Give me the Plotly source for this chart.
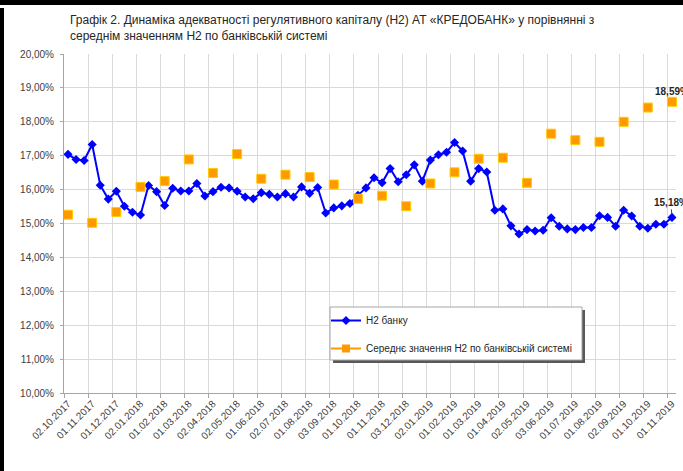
import plotly.graph_objects as go

title_text = ("Графік 2. Динаміка адекватності регулятивного капіталу (Н2) АТ «КРЕДОБАНК» у порівнянні з<br>"
              "середнім значенням Н2 по банківській системі")

month_labels = ["02.10.2017", "01.11.2017", "01.12.2017", "02.01.2018", "01.02.2018", "01.03.2018",
                "02.04.2018", "02.05.2018", "01.06.2018", "02.07.2018", "01.08.2018", "03.09.2018",
                "01.10.2018", "01.11.2018", "03.12.2018", "02.01.2019", "01.02.2019", "01.03.2019",
                "01.04.2019", "02.05.2019", "03.06.2019", "01.07.2019", "01.08.2019", "02.09.2019",
                "01.10.2019", "01.11.2019"]

# Н2 банку (3 observations per month), %
bank_h2 = [17.04, 16.89, 16.86, 17.33, 16.13, 15.72, 15.95, 15.51, 15.33, 15.25,
           16.12, 15.94, 15.53, 16.04, 15.96, 15.96, 16.18, 15.81, 15.94, 16.07,
           16.05, 15.95, 15.78, 15.73, 15.91, 15.86, 15.78, 15.88, 15.78, 16.08,
           15.89, 16.06, 15.31, 15.46, 15.52, 15.59, 15.83, 16.05, 16.35, 16.20,
           16.62, 16.23, 16.44, 16.73, 16.25, 16.87, 17.03, 17.10, 17.39, 17.14,
           16.25, 16.62, 16.52, 15.39, 15.43, 14.93, 14.69, 14.82, 14.78, 14.80,
           15.17, 14.92, 14.84, 14.82, 14.88, 14.88, 15.23, 15.18, 14.92, 15.39,
           15.22, 14.92, 14.86, 14.98, 14.98, 15.18]

# Середнє значення Н2 по банківській системі (monthly), %
system_h2 = [15.26, 15.02, 15.34, 16.08, 16.25, 16.89, 16.49, 17.05, 16.32, 16.44,
             16.37, 16.15, 15.73, 15.82, 15.51, 16.18, 16.51, 16.91, 16.94, 16.20,
             17.65, 17.46, 17.41, 18.00, 18.42, 18.59]

per_month = 3
bank_x = list(range(len(bank_h2)))
sys_x = [i * per_month for i in range(len(system_h2))]

W, H = 683, 471
ML, MR, MT, MB = 64, 7, 54, 78
PW, PH = W - ML - MR, H - MT - MB

def px_x(p):
    return (p - ML) / PW

def px_y(p):
    return 1 - (p - MT) / PH

BLUE = "#0000FF"
ORANGE = "#FF9900"
FONT = "Liberation Sans"

fig = go.Figure()

fig.add_trace(go.Scatter(
    x=bank_x, y=bank_h2, mode="lines+markers", name="Н2 банку",
    line=dict(color=BLUE, width=2),
    marker=dict(symbol="diamond", size=7, color=BLUE),
    legendgroup="a", cliponaxis=False,
))
fig.add_trace(go.Scatter(
    x=sys_x, y=system_h2, mode="markers", name="Середнє значення Н2 по банківській системі",
    marker=dict(symbol="square", size=9, color=ORANGE, line=dict(color="#FFCC00", width=1)),
    showlegend=False, cliponaxis=False,
))
# legend entry (Excel shows line + marker for this series)
fig.add_trace(go.Scatter(
    x=[None], y=[None], mode="lines+markers", name="Середнє значення Н2 по банківській системі",
    line=dict(color=ORANGE, width=2),
    marker=dict(symbol="square", size=8, color=ORANGE),
    legendgroup="b",
))

def fmt(v):
    return f"{v:.2f}".replace(".", ",") + "%"

fig.add_annotation(x=sys_x[-1], y=system_h2[-1], text="<b>" + fmt(system_h2[-1]) + "</b>",
                   showarrow=False, yanchor="bottom", yshift=3,
                   font=dict(family=FONT, size=10, color="#262626"))
fig.add_annotation(x=bank_x[-1], y=bank_h2[-1], text="<b>" + fmt(bank_h2[-1]) + "</b>",
                   showarrow=True, arrowhead=0, arrowwidth=1, arrowcolor="#404040",
                   ax=-1, ay=-15, standoff=3,
                   font=dict(family=FONT, size=10, color="#262626"))

# frame strips of the original screenshot
fig.add_shape(type="rect", xref="paper", yref="paper",
              x0=px_x(-5), x1=px_x(W + 5), y0=px_y(5), y1=px_y(-5),
              fillcolor="black", line_width=0, layer="above")
fig.add_shape(type="rect", xref="paper", yref="paper",
              x0=px_x(-5), x1=px_x(4), y0=px_y(H + 5), y1=px_y(8),
              fillcolor="black", line_width=0, layer="above")

# legend box with shadow (Excel style)
LB = dict(x0=330, x1=582, y0=307, y1=360)
fig.add_shape(type="rect", xref="paper", yref="paper",
              x0=px_x(LB["x0"] + 3), x1=px_x(LB["x1"] + 3), y0=px_y(LB["y1"] + 3), y1=px_y(LB["y0"] + 3),
              fillcolor="#595959", line_width=0, layer="above")
fig.add_shape(type="rect", xref="paper", yref="paper",
              x0=px_x(LB["x0"]), x1=px_x(LB["x1"]), y0=px_y(LB["y1"]), y1=px_y(LB["y0"]),
              fillcolor="white", line=dict(color="#A6A6A6", width=1), layer="above")

fig.update_layout(
    width=W, height=H,
    margin=dict(l=ML, r=MR, t=MT, b=MB, autoexpand=False),
    paper_bgcolor="white", plot_bgcolor="white",
    separators=", ",
    font=dict(family=FONT, size=10, color="#404040"),
    title=dict(text=title_text, x=70 / W, xanchor="left", y=1 - 24 / H, yanchor="top",
               font=dict(family="Liberation Sans Narrow, " + FONT, size=12, color="#262626")),
    showlegend=True,
    legend=dict(x=px_x(326), y=px_y(306), xanchor="left", yanchor="top",
                bgcolor="rgba(0,0,0,0)", borderwidth=0,
                font=dict(family=FONT, size=10, color="#262626"),
                tracegroupgap=9, traceorder="grouped"),
    xaxis=dict(range=[-0.5, len(bank_h2) - 0.5], tickmode="array",
               tickvals=sys_x, ticktext=month_labels, tickangle=-45,
               showgrid=False, zeroline=False, showline=True, linecolor="#A6A6A6",
               ticks="", tickfont=dict(size=10, color="#404040"),
               minor=dict(tick0=-0.5, dtick=per_month, showgrid=True, gridcolor="#D9D9D9",
                          gridwidth=1, ticks="outside", ticklen=4, tickcolor="#A6A6A6")),
    yaxis=dict(range=[10, 20], dtick=1, tickformat=".2f", ticksuffix="%",
               showgrid=True, gridcolor="#D9D9D9", gridwidth=1, zeroline=False,
               showline=True, linecolor="#A6A6A6", ticks="outside", ticklen=3,
               ticklabelstandoff=4,
               tickcolor="#A6A6A6", tickfont=dict(size=10, color="#404040")),
)

fig.write_html("out.html", config={"displayModeBar": False},
               post_script="document.body.style.margin='0px';document.body.style.overflow='hidden';")
